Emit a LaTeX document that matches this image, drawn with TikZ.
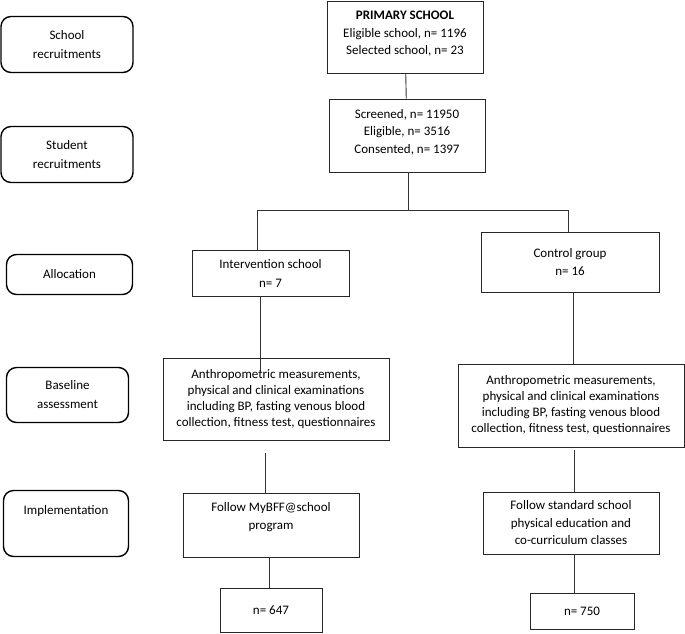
\documentclass[tikz,border=0pt]{standalone}
\usepackage{fontspec}
\setmainfont{Carlito}
\usetikzlibrary{calc}
\begin{document}
\begin{tikzpicture}[x=1pt,y=-1pt,
  box/.style={draw=black!85,line width=0.9pt,align=center,inner sep=0pt,
    font=\fontsize{13}{17.5}\selectfont},
  tag/.style={draw=black,line width=1.4pt,rounded corners=10pt,align=center,inner sep=0pt,
    font=\fontsize{13}{19}\selectfont},
  link/.style={draw=black!80,line width=0.9pt}]
\useasboundingbox (0,0) rectangle (685,633);
% left labels
\node[tag,minimum width=132pt,minimum height=56pt] (schoolr) at (67,44.5) {School\\recruitments};
\node[tag,minimum width=132pt,minimum height=56pt] (studentr) at (67,154.5) {Student\\recruitments};
\node[tag,minimum width=126pt,minimum height=40pt] (alloc) at (69.5,274.5) {Allocation};
\node[tag,minimum width=122pt,minimum height=55pt] (basel) at (67.5,395) {Baseline\\assessment};
\node[tag,minimum width=125pt,minimum height=66pt] (impl) at (66,523.5) {Implementation\\[8pt]\mbox{}};
% main flow
\node[box,minimum width=156pt,minimum height=72pt] (primary) at (405,37) {\textbf{PRIMARY SCHOOL}\\Eligible school, n= 1196\\Selected school, n= 23\\[-9pt]\mbox{}};
\node[box,minimum width=156pt,minimum height=73pt] (screened) at (407,135.5) {Screened, n= 11950\\Eligible, n= 3516\\Consented, n= 1397\\[-9pt]\mbox{}};
\node[box,minimum width=157pt,minimum height=46pt,font=\fontsize{13}{19}\selectfont] (interv) at (270.5,273) {Intervention school\\n= 7};
\node[box,minimum width=178pt,minimum height=60pt,font=\fontsize{13}{18}\selectfont] (control) at (570,262) {Control group\\n= 16};
\node[box,minimum width=226pt,minimum height=82pt,font=\fontsize{13}{16}\selectfont] (lbase) at (276,399) {Anthropometric measurements,\\physical and clinical examinations\\including BP, fasting venous blood\\collection, fitness test, questionnaires};
\node[box,minimum width=226pt,minimum height=83pt,font=\fontsize{13}{16}\selectfont] (rbase) at (571,405.5) {Anthropometric measurements,\\physical and clinical examinations\\including BP, fasting venous blood\\collection, fitness test, questionnaires};
\node[box,minimum width=176pt,minimum height=64pt,font=\fontsize{13}{18}\selectfont] (follow) at (271,525) {Follow MyBFF@school\\program\\\mbox{}};
\node[box,minimum width=176pt,minimum height=62pt] (standard) at (571,523) {Follow standard school\\physical education and\\co-curriculum classes};
\node[box,minimum width=102pt,minimum height=44pt] (n647) at (271,610) {n= 647};
\node[box,minimum width=104pt,minimum height=36pt] (n750) at (582,611) {n= 750};
% connectors
\coordinate (split) at (408,210);
\coordinate (jl) at (257,210);
\coordinate (jr) at (568,210);
\coordinate (a1) at (260,372);
\coordinate (a2) at (573,364);
\coordinate (a3) at (265,453);
\coordinate (a4) at (574,450);
\coordinate (a5) at (269,0);
\coordinate (a6) at (574,0);
\draw[link] (primary) -- (screened);
\draw[link] (split |- screened.south) -- (split);
\draw[link] (jl |- interv.north) -- (jl) -- (jr) -- (jr |- control.north);
\draw[link] (a1 |- interv.south) -- (a1);
\draw[link] (a2 |- control.south) -- (a2 |- rbase.north);
\draw[link] (a3) -- (a3 |- follow.north);
\draw[link] (a4) -- (a4 |- standard.north);
\draw[link] (a5 |- follow.south) -- (a5 |- n647.north);
\draw[link] (a6 |- standard.south) -- (a6 |- n750.north);
\end{tikzpicture}
\end{document}
